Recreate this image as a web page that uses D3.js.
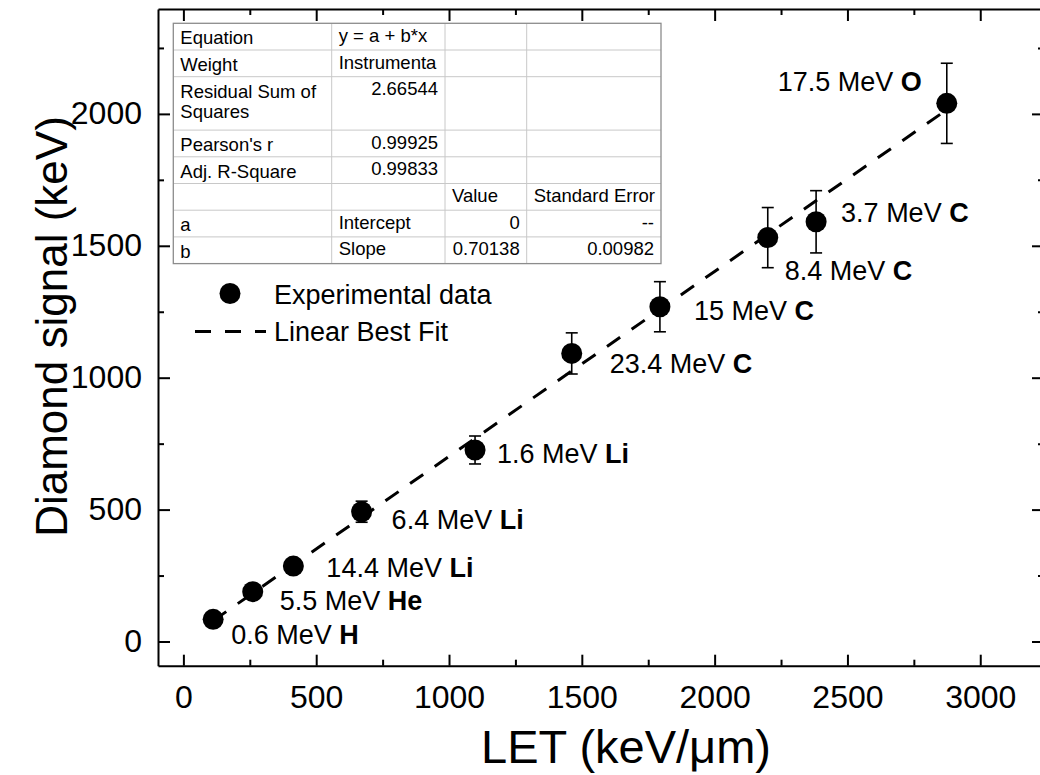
<!DOCTYPE html>
<html><head><meta charset="utf-8">
<script src="https://cdn.jsdelivr.net/npm/d3@7"></script>
<style>
body{margin:0;background:#fff}
svg text{font-family:"Liberation Sans",Arial,Helvetica,sans-serif;fill:#000}
</style>
</head><body>
<svg id="chart" width="1040" height="775"></svg>
<script>
// ---------------- data ----------------
const letValues    = [112, 261, 414, 671, 1098, 1462, 1794, 2200, 2382, 2874];
const signalValues = [84, 189, 286, 492, 726, 1092, 1269, 1531, 1591, 2040];
const signalErrors = [10, 15, 20, 40, 53, 78, 95, 114, 118, 152];
const energyLabels = ["0.6 MeV","5.5 MeV","14.4 MeV","6.4 MeV","1.6 MeV","23.4 MeV","15 MeV","8.4 MeV","3.7 MeV","17.5 MeV"];
const ionLabels    = ["H","He","Li","Li","Li","C","C","C","C","O"];
const fitIntercept = 0;
const fitSlope     = 0.70138;
const xMajorTicks  = [0, 500, 1000, 1500, 2000, 2500, 3000];
const xMinorTicks  = [250, 750, 1250, 1750, 2250, 2750];
const yMajorTicks  = [0, 500, 1000, 1500, 2000];
const yMinorTicks  = [250, 750, 1250, 1750, 2250];
const xTitle = "LET (keV/\u03BCm)";
const yTitle = "Diamond signal (keV)";
const legendLabels = ["Experimental data", "Linear Best Fit"];
const tableRows = [
  ["Equation", "y = a + b*x", "", ""],
  ["Weight", "Instrumenta", "", ""],
  ["Residual Sum of\nSquares", "2.66544", "", ""],
  ["Pearson's r", "0.99925", "", ""],
  ["Adj. R-Square", "0.99833", "", ""],
  ["", "", "Value", "Standard Error"],
  ["a", "Intercept", "0", "--"],
  ["b", "Slope", "0.70138", "0.00982"]
];

// ---------------- layout ----------------
const labelOffsets = [[18,25],[27,18],[33,11],[30,17],[22,13],[38,20],[34,13],[17,42],[25,0],[-25,-12]];
const plot = {left:158, right:1044, top:9, bottom:665.7};
const svg = d3.select("#chart");

const x = d3.scaleLinear().domain([-95.6, 3240]).range([plot.left, plot.right]);
const y = d3.scaleLinear().domain([-91.7, 2397.6]).range([plot.bottom, plot.top]);

// ---------------- axes ----------------
function styleAxis(g){
  g.select(".domain").attr("stroke","#000").attr("stroke-width",2);
  g.selectAll(".tick line").attr("stroke","#000").attr("stroke-width",2);
}
function minor(g){
  g.select(".domain").remove();
  g.selectAll(".tick line").attr("stroke","#000").attr("stroke-width",2);
}
const fmt = d3.format("d");
// bottom
const gxB = svg.append("g").attr("transform",`translate(0,${plot.bottom})`)
  .call(d3.axisBottom(x).tickValues(xMajorTicks).tickSize(-11).tickSizeOuter(0).tickPadding(20).tickFormat(fmt));
gxB.selectAll("text").attr("font-size",32).attr("font-family","Liberation Sans, Arial, sans-serif");
styleAxis(gxB);
svg.append("g").attr("transform",`translate(0,${plot.bottom})`)
  .call(d3.axisBottom(x).tickValues(xMinorTicks).tickSize(-6).tickFormat("")).call(minor);
// top
const gxT = svg.append("g").attr("transform",`translate(0,${plot.top})`)
  .call(d3.axisTop(x).tickValues(xMajorTicks).tickSize(-12).tickSizeOuter(0).tickFormat(""));
styleAxis(gxT);
svg.append("g").attr("transform",`translate(0,${plot.top})`)
  .call(d3.axisTop(x).tickValues(xMinorTicks).tickSize(-6).tickFormat("")).call(minor);
// left
const gyL = svg.append("g").attr("transform",`translate(${plot.left},0)`)
  .call(d3.axisLeft(y).tickValues(yMajorTicks).tickSize(-12).tickSizeOuter(0).tickPadding(16).tickFormat(fmt));
gyL.selectAll("text").attr("font-size",32).attr("font-family","Liberation Sans, Arial, sans-serif").attr("dy","0.31em");
styleAxis(gyL);
svg.append("g").attr("transform",`translate(${plot.left},0)`)
  .call(d3.axisLeft(y).tickValues(yMinorTicks).tickSize(-6).tickFormat("")).call(minor);
// right
const gyR = svg.append("g").attr("transform",`translate(${plot.right},0)`)
  .call(d3.axisRight(y).tickValues(yMajorTicks).tickSize(-12).tickSizeOuter(0).tickFormat(""));
styleAxis(gyR);
svg.append("g").attr("transform",`translate(${plot.right},0)`)
  .call(d3.axisRight(y).tickValues(yMinorTicks).tickSize(-6).tickFormat("")).call(minor);

// titles
svg.append("text").attr("x",626).attr("y",763).attr("text-anchor","middle")
  .attr("font-size",47).text(xTitle);
svg.append("text").attr("transform","translate(67,326.5) rotate(-90)").attr("text-anchor","middle")
  .attr("font-size",44).text(yTitle);

// ---------------- fit line ----------------
const fitX = d3.extent(letValues);
svg.append("path")
  .datum(fitX)
  .attr("d", d3.line().x(d=>x(d)).y(d=>y(fitIntercept + fitSlope*d)))
  .attr("fill","none").attr("stroke","#000").attr("stroke-width",3)
  .attr("stroke-dasharray","16,14");

// ---------------- error bars + markers ----------------
const pts = letValues.map((v,i)=>({x:v, y:signalValues[i], e:signalErrors[i], en:energyLabels[i], ion:ionLabels[i], off:labelOffsets[i]}));
const eb = svg.append("g").attr("stroke","#000").attr("stroke-width",1.6);
pts.forEach(p=>{
  const cx = x(p.x), y1 = y(p.y + p.e), y0 = y(p.y - p.e);
  eb.append("line").attr("x1",cx).attr("x2",cx).attr("y1",y1).attr("y2",y0);
  eb.append("line").attr("x1",cx-6).attr("x2",cx+6).attr("y1",y1).attr("y2",y1);
  eb.append("line").attr("x1",cx-6).attr("x2",cx+6).attr("y1",y0).attr("y2",y0);
});
svg.append("g").selectAll("circle").data(pts).join("circle")
  .attr("cx",d=>x(d.x)).attr("cy",d=>y(d.y)).attr("r",10.5).attr("fill","#000");

// labels
const lab = svg.append("g").selectAll("text").data(pts).join("text")
  .attr("x",d=>x(d.x)+d.off[0]).attr("y",d=>y(d.y)+d.off[1])
  .attr("font-size",27)
  .attr("text-anchor",d=>d.off[0]<0?"end":"start");
lab.append("tspan").text(d=>d.en+" ");
lab.append("tspan").attr("font-weight","bold").text(d=>d.ion);

// ---------------- legend ----------------
svg.append("circle").attr("cx",230).attr("cy",293.5).attr("r",10.5).attr("fill","#000");
svg.append("line").attr("x1",195).attr("x2",266).attr("y1",331.5).attr("y2",331.5)
  .attr("stroke","#000").attr("stroke-width",3).attr("stroke-dasharray","16,14");
svg.append("text").attr("x",274).attr("y",303.5).attr("font-size",27).text(legendLabels[0]);
svg.append("text").attr("x",274).attr("y",341).attr("font-size",27).text(legendLabels[1]);

// ---------------- fit table ----------------
const colEdges = [173.3, 331.7, 445, 526.7, 661];
const rowH = 26.7, tableTop = 23.3;
const rowSpans = tableRows.map(r=>r[0].includes("\n")?2:1);
const rowTops = []; let acc = tableTop;
rowSpans.forEach(s=>{rowTops.push(acc); acc += s*rowH;});
const tableBottom = acc;
const tg = svg.append("g");
tg.append("rect").attr("x",colEdges[0]).attr("y",tableTop)
  .attr("width",colEdges[4]-colEdges[0]).attr("height",tableBottom-tableTop).attr("fill","#fff");
rowTops.slice(1).forEach(t=>{
  tg.append("line").attr("x1",colEdges[0]).attr("x2",colEdges[4]).attr("y1",t).attr("y2",t)
    .attr("stroke","#c8c8c8").attr("stroke-width",1);
});
colEdges.slice(1,4).forEach(c=>{
  tg.append("line").attr("x1",c).attr("x2",c).attr("y1",tableTop).attr("y2",tableBottom)
    .attr("stroke","#c8c8c8").attr("stroke-width",1);
});
tg.append("rect").attr("x",colEdges[0]).attr("y",tableTop)
  .attr("width",colEdges[4]-colEdges[0]).attr("height",tableBottom-tableTop)
  .attr("fill","none").attr("stroke","#8c8c8c").attr("stroke-width",1.3);
const isNum = s => /^[-0-9.]+$/.test(s);
tableRows.forEach((row,ri)=>{
  row.forEach((cell,ci)=>{
    if(!cell) return;
    const lines = cell.split("\n");
    const right = isNum(cell);
    const tx = right ? colEdges[ci+1]-7 : colEdges[ci]+7;
    const base = rowTops[ri] + (ci===0 ? 21 : 18.5);
    lines.forEach((ln,li)=>{
      tg.append("text").attr("x",tx).attr("y",base+li*20.5).attr("font-size",18.5)
        .attr("text-anchor",right?"end":"start").text(ln);
    });
  });
});
</script>
</body></html>
